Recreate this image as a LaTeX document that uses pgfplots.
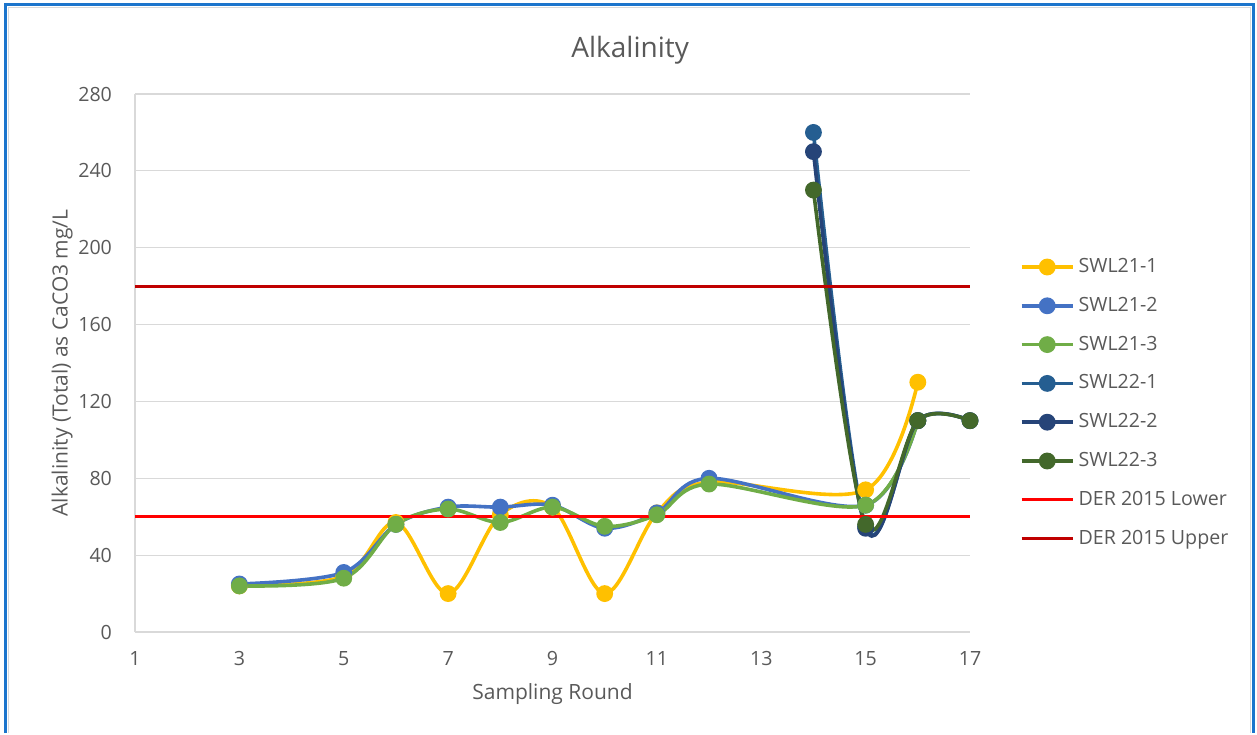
\documentclass[border=0pt]{standalone}
\usepackage{fontspec}
\setmainfont{Open Sans}
\usepackage{pgfplots}
\pgfplotsset{compat=1.18}
\definecolor{txt}{HTML}{595959}
\definecolor{gridc}{HTML}{D9D9D9}
\definecolor{cA}{HTML}{FFC000}
\definecolor{cB}{HTML}{4472C4}
\definecolor{cC}{HTML}{70AD47}
\definecolor{cD}{HTML}{255E91}
\definecolor{cE}{HTML}{264478}
\definecolor{cF}{HTML}{43682B}
\definecolor{lowc}{HTML}{FF0000}
\definecolor{upc}{HTML}{C00000}
\definecolor{framec}{HTML}{1C75CC}

\begin{document}
\begin{tikzpicture}
\begin{axis}[
    at={(0,0)}, anchor=south west,
    scale only axis,
    width=417.5pt, height=269pt,
    xmin=1, xmax=17, ymin=0, ymax=280,
    xtick={1,3,...,17},
    ytick={0,40,...,280},
    ymajorgrids,
    grid style={gridc, line width=0.6pt},
    axis line style={gridc, line width=0.6pt},
    axis x line*=bottom, axis y line*=left,
    major tick length=0pt,
    tick label style={txt, font=\fontsize{9.8}{12}\selectfont},
    /pgf/number format/assume math mode=true,
    xticklabel style={yshift=-6pt},
    yticklabel style={xshift=-8pt},
    xlabel={Sampling Round},
    ylabel={Alkalinity (Total) as CaCO3 mg/L},
    label style={txt, font=\fontsize{10.5}{13}\selectfont},
    xlabel style={yshift=-2pt},
    ylabel style={yshift=-4pt},
    title={Alkalinity},
    title style={txt, font=\fontsize{14}{16}\selectfont, at={(0.593,1)}, anchor=center, yshift=16pt},
    every axis plot/.append style={line width=1.8pt, smooth, tension=0.55, mark=*, mark size=3.3pt, mark options={solid}},
    legend style={at={(1.052,0.71)}, anchor=north west, draw=none, fill=none,
        font=\fontsize{9.8}{12}\selectfont, text=txt, row sep=6.8pt,
        legend cell align=left},
    legend image code/.code={
        \draw[#1, mark=none] (0cm,0cm) -- (0.9cm,0cm);
        \draw[#1, only marks] plot coordinates {(0.45cm,0cm)};
    },
]
\addplot[cA] coordinates {(3,24) (5,29) (6,57) (7,20) (8,61) (9,65) (10,20) (11,62) (12,78) (15,74) (16,130)};
\addlegendentry{SWL21-1}
\addplot[cB] coordinates {(3,25) (5,31) (6,56) (7,65) (8,65) (9,66) (10,54) (11,62) (12,80) (15,66) (16,110)};
\addlegendentry{SWL21-2}
\addplot[cC] coordinates {(3,24) (5,28) (6,56) (7,64) (8,57) (9,65) (10,55) (11,61) (12,77) (15,66) (16,110)};
\addlegendentry{SWL21-3}
\addplot[cD] coordinates {(14,260) (15,55) (16,110) (17,110)};
\addlegendentry{SWL22-1}
\addplot[cE] coordinates {(14,250) (15,54) (16,110) (17,110)};
\addlegendentry{SWL22-2}
\addplot[cF] coordinates {(14,230) (15,56) (16,110) (17,110)};
\addlegendentry{SWL22-3}
\addplot[lowc, line width=1.4pt, mark=none, sharp plot] coordinates {(1,60) (17,60)};
\addlegendentry{DER 2015 Lower}
\addplot[upc, line width=1.4pt, mark=none, sharp plot] coordinates {(1,180) (17,180)};
\addlegendentry{DER 2015 Upper}
\end{axis}
% chart frame
\draw[gridc, line width=0.5pt] (-63pt,-50.5pt) -- (-63pt,312pt) -- (557.5pt,312pt) -- (557.5pt,-50.5pt);
\draw[framec, line width=1.5pt] (-64.5pt,-50.5pt) -- (-64.5pt,313.5pt) -- (559pt,313.5pt) -- (559pt,-50.5pt);
\path[use as bounding box] (-67.5pt,-50.5pt) rectangle (561pt,316pt);
\end{tikzpicture}
\end{document}
